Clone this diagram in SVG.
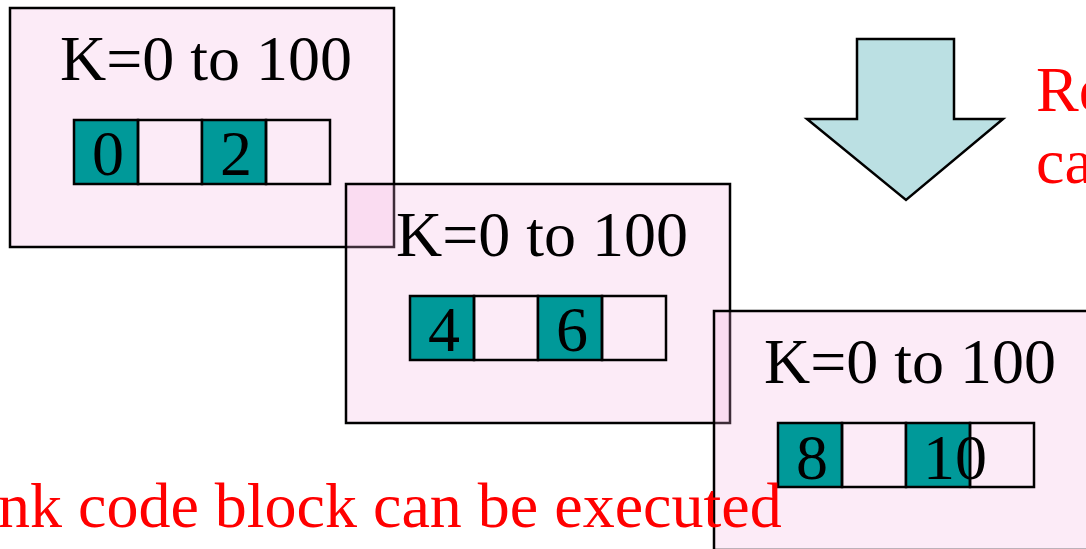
<svg xmlns="http://www.w3.org/2000/svg" width="1086" height="549" viewBox="0 0 1086 549">
<style>
.box{fill:#f5b0e0;fill-opacity:0.25;stroke:#000;stroke-width:2.5}
.cell{fill:none;stroke:#000;stroke-width:2.5}
.teal{fill:#009999;stroke:#000;stroke-width:2.5}
.t{font-family:"Liberation Serif","Times New Roman",serif;font-size:64px;fill:#000}
.red{font-family:"Liberation Serif","Times New Roman",serif;font-size:64px;fill:#ff0000}
</style>
<rect width="1086" height="549" fill="#fff"/>
<g id="arrow">
<polygon points="857,39 954,39 954,119 1003,119 906,200 807,119 857,119" fill="#bbe0e3" stroke="#000" stroke-width="2.5"/>
</g>
<g id="red-note">
<text class="red" x="1036" y="111">Re</text>
<text class="red" x="1036" y="183">ca</text>
</g>
<g id="block1">
<rect class="box" x="10" y="8" width="384" height="239"/>
<text class="t" x="60" y="80">K=0 to 100</text>
<rect class="teal" x="74" y="120" width="64" height="64"/>
<rect class="cell" x="138" y="120" width="64" height="64"/>
<rect class="teal" x="202" y="120" width="64" height="64"/>
<rect class="cell" x="266" y="120" width="64" height="64"/>
<text class="t" x="92" y="175">0</text>
<text class="t" x="220" y="175">2</text>
</g>
<g id="block2">
<rect class="box" x="346" y="184" width="384" height="239"/>
<text class="t" x="396" y="256">K=0 to 100</text>
<rect class="teal" x="410" y="296" width="64" height="64"/>
<rect class="cell" x="474" y="296" width="64" height="64"/>
<rect class="teal" x="538" y="296" width="64" height="64"/>
<rect class="cell" x="602" y="296" width="64" height="64"/>
<text class="t" x="428" y="351">4</text>
<text class="t" x="556" y="351">6</text>
</g>
<g id="block3">
<rect class="box" x="714" y="311" width="384" height="239"/>
<text class="t" x="764" y="383">K=0 to 100</text>
<rect class="teal" x="778" y="423" width="64" height="64"/>
<rect class="cell" x="842" y="423" width="64" height="64"/>
<rect class="teal" x="906" y="423" width="64" height="64"/>
<rect class="cell" x="970" y="423" width="64" height="64"/>
<text class="t" x="796" y="479">8</text>
<text class="t" x="923" y="479">10</text>
</g>
<g id="bottom-note">
<text class="red" x="-2" y="527">nk code block can be executed</text>
</g>
<g id="connectors"></g>
</svg>
